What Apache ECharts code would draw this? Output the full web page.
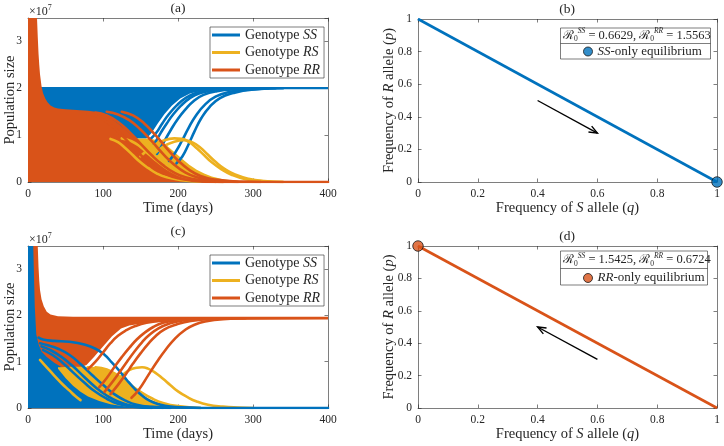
<!DOCTYPE html>
<html>
<head>
<meta charset="utf-8">
<script src="https://cdn.jsdelivr.net/npm/echarts@6.0.0/dist/echarts.min.js"></script>
<style>
html,body{margin:0;padding:0;background:#fff;}
#chart{width:724px;height:446px;}
</style>
</head>
<body>
<div id="chart"></div>
<script>
// ================= DATA =================
// axes: [min, max, interval]
const timeAxis = [0, 400, 100];          // days
const popAxis  = [0, 3.5, 1];            // population, units of 10^7
const freqAxis = [0, 1, 0.2];
const genotypeNames = ['Genotype SS', 'Genotype RS', 'Genotype RR'];

// ---- panel (a): envelopes of the dense bundles of trajectories [day, pop/1e7]
const a_SS_band_upper = [[14,2.03],[400,2.03]];
const a_SS_band_lower = [[14,1.5],[100,1.45],[130,1.1],[140,0.93],[158,0.93],[165,1.05],[173,1.25],[182,1.45],[192,1.63],[203,1.78],[216,1.89],[232,1.95],[255,1.98],[400,1.98]];
const a_RS_band_upper = [[100,0.93],[155,0.93],[165,0.92],[175,0.88],[185,0.78],[195,0.64],[205,0.5],[215,0.37],[225,0.26],[235,0.18],[245,0.12],[260,0.06],[280,0.02],[310,0]];
const a_RS_band_lower = [[100,0],[310,0]];
const a_RR_band_upper = [[0,3.5],[12,3.5],[13,3.1],[14,2.75],[15,2.5],[16,2.3],[18,2.05],[20,1.9],[23,1.78],[26,1.7],[30,1.63],[35,1.59],[40,1.57],[50,1.55],[60,1.54],[70,1.53],[80,1.52],[90,1.5],[100,1.45],[110,1.37],[120,1.25],[130,1.12],[140,0.97],[150,0.82],[160,0.66],[170,0.5],[180,0.36],[190,0.24],[200,0.15],[210,0.09],[225,0.04],[245,0.015],[270,0.005],[300,0]];
const a_RR_band_lower = [[0,0],[300,0]];
// ---- panel (a): individual trajectories
const a_SS_1 = [[164,0.93],[171,1.05],[179,1.25],[188,1.45],[198,1.63],[209,1.78],[222,1.89],[238,1.95],[262,1.98],[300,2.0]];
const a_SS_2 = [[168,0.8],[177,1.05],[185,1.25],[194,1.45],[204,1.63],[215,1.78],[228,1.89],[245,1.95],[270,1.98],[310,2.0]];
const a_SS_3 = [[172,0.6],[180,0.82],[190,1.1],[200,1.35],[210,1.55],[221,1.73],[234,1.86],[252,1.94],[278,1.98],[320,2.0]];
const a_SS_4 = [[188,0.45],[196,0.62],[205,0.87],[214,1.15],[224,1.42],[236,1.65],[250,1.82],[268,1.92],[292,1.97],[330,2.0]];
const a_SS_5 = [[198,0.4],[206,0.55],[214,0.8],[222,1.08],[231,1.36],[242,1.6],[256,1.79],[274,1.9],[298,1.97],[340,2.0]];
const a_RS_1 = [[150,0.55],[165,0.75],[180,0.88],[195,0.93],[205,0.92],[215,0.85],[225,0.72],[235,0.57],[245,0.42],[258,0.27],[272,0.15],[290,0.06],[310,0.02],[340,0]];
const a_RS_2 = [[165,0.55],[180,0.75],[195,0.86],[209,0.89],[220,0.84],[230,0.73],[240,0.58],[250,0.43],[262,0.28],[276,0.16],[294,0.07],[315,0.02],[340,0]];
const a_RS_3 = [[110,0.92],[120,0.85],[130,0.72],[140,0.57],[150,0.42],[160,0.3],[172,0.18],[185,0.1],[205,0.04],[230,0.01]];
const a_RS_4 = [[125,0.93],[138,0.87],[150,0.75],[162,0.58],[174,0.42],[186,0.28],[200,0.16],[215,0.08],[235,0.03],[260,0]];
const a_RR_1 = [[80,1.45],[95,1.38],[110,1.22],[125,1.0],[140,0.75],[155,0.5],[170,0.3],[185,0.16],[200,0.08],[220,0.03],[250,0]];
const a_RR_2 = [[90,1.48],[105,1.42],[120,1.28],[135,1.07],[150,0.82],[165,0.57],[180,0.36],[195,0.2],[210,0.1],[230,0.04],[260,0]];
const a_RR_3 = [[105,1.5],[120,1.44],[135,1.32],[150,1.12],[165,0.87],[180,0.6],[195,0.37],[210,0.2],[225,0.1],[245,0.04],[280,0]];
const a_RR_4 = [[125,1.5],[140,1.42],[155,1.25],[170,1.0],[185,0.72],[200,0.46],[215,0.26],[230,0.13],[250,0.05],[280,0.01],[310,0]];
const a_RR_5 = [[250,0],[400,0]];

// ---- panel (c): envelopes
const c_SS_band_upper = [[0,3.5],[9,3.5],[11,2.6],[13,1.9],[16,1.55],[20,1.4],[30,1.25],[40,1.1],[50,0.95],[60,0.8],[70,0.64],[80,0.5],[90,0.38],[100,0.28],[110,0.2],[125,0.11],[140,0.06],[160,0.03],[190,0.01],[220,0]];
const c_SS_band_lower = [[0,0],[220,0]];
const c_RR_band_upper = [[7,3.5],[13,3.5],[14,3.05],[15,2.75],[16,2.55],[18,2.35],[21,2.2],[25,2.08],[30,2.02],[40,1.98],[60,1.97],[100,1.97],[400,1.97]];
const c_RR_band_lower = [[7,3.5],[9,2.2],[11,1.6],[14,1.38],[18,1.22],[25,1.1],[35,0.98],[45,0.88],[70,0.88],[78,0.93],[88,1.1],[100,1.33],[112,1.55],[124,1.72],[135,1.78],[150,1.82],[170,1.85],[200,1.88],[250,1.9],[400,1.91]];
const c_RS_band_upper = [[40,0.88],[60,0.89],[80,0.89],[95,0.88],[105,0.84],[115,0.76],[125,0.64],[135,0.5],[145,0.37],[155,0.26],[165,0.17],[175,0.1],[190,0.05],[210,0.02],[230,0]];
const c_RS_band_lower = [[40,0.85],[50,0.65],[60,0.48],[70,0.35],[80,0.25],[95,0.15],[110,0.08],[130,0.03],[160,0.01],[230,0]];
// ---- panel (c): individual trajectories
const c_SS_1 = [[14,1.52],[20,1.48],[35,1.45],[55,1.43],[75,1.37],[90,1.28],[102,1.15],[112,0.98],[122,0.8],[132,0.6],[142,0.42],[152,0.27],[162,0.16],[175,0.08],[190,0.03],[210,0.01],[230,0]];
const c_SS_2 = [[16,1.4],[25,1.36],[40,1.28],[55,1.15],[70,0.95],[85,0.72],[100,0.5],[115,0.3],[130,0.16],[145,0.07],[165,0.02],[190,0]];
const c_SS_3 = [[18,1.33],[30,1.25],[45,1.1],[60,0.9],[75,0.67],[90,0.45],[105,0.27],[120,0.14],[135,0.06],[155,0.02],[180,0]];
const c_SS_4 = [[20,1.25],[32,1.15],[46,0.98],[60,0.77],[75,0.55],[90,0.35],[105,0.2],[120,0.09],[140,0.03],[165,0]];
const c_SS_5 = [[150,0.03],[200,0.01],[250,0],[400,0]];
const c_RS_1 = [[105,0.3],[115,0.5],[125,0.7],[135,0.82],[145,0.87],[152,0.88],[160,0.85],[170,0.76],[180,0.63],[190,0.49],[200,0.36],[212,0.24],[225,0.14],[240,0.07],[260,0.03],[280,0.01],[300,0]];
const c_RS_2 = [[16,1.04],[25,0.88],[35,0.7],[45,0.53],[55,0.38],[63,0.26],[70,0.17]];
const c_RS_3 = [[80,0.88],[95,0.82],[110,0.68],[125,0.5],[140,0.33],[155,0.2],[170,0.1],[190,0.04],[215,0.01]];
const c_RS_4 = [[90,0.88],[105,0.83],[120,0.7],[135,0.52],[150,0.35],[165,0.21],[180,0.11],[200,0.04],[230,0]];
const c_RR_1 = [[138,0.22],[148,0.4],[160,0.7],[172,1.0],[184,1.27],[196,1.5],[208,1.67],[222,1.8],[240,1.88],[260,1.92],[290,1.94]];
const c_RR_2 = [[95,0.45],[105,0.65],[115,0.88],[125,1.1],[135,1.3],[145,1.48],[155,1.62],[167,1.75],[180,1.84],[200,1.9],[230,1.93]];
const c_RR_3 = [[102,0.35],[112,0.55],[122,0.77],[132,1.0],[142,1.22],[152,1.42],[162,1.58],[174,1.72],[188,1.82],[206,1.89],[236,1.93]];
const c_RR_4 = [[110,0.3],[120,0.5],[130,0.72],[140,0.96],[150,1.18],[160,1.38],[170,1.55],[182,1.7],[197,1.8],[217,1.88],[250,1.93]];
const c_RR_5 = [[80,0.84],[90,1.0],[100,1.2],[110,1.4],[120,1.56],[131,1.68],[143,1.77],[158,1.84],[180,1.89],[210,1.91]];

// ---- panels (b) and (d): allele-frequency phase lines [q, p]
const b_path = [[0,1],[1,0]];
const b_equilibrium = [[1,0]];
const b_arrow = [[0.4,0.5,0.6,0.3]];       // q0, p0, q1, p1
const b_R0 = ['0.6629', '1.5563'];          // R0^SS, R0^RR
const d_path = [[0,1],[1,0]];
const d_equilibrium = [[0,1]];
const d_arrow = [[0.6,0.3,0.4,0.5]];
const d_R0 = ['1.5425', '0.6724'];

// ================= STYLE =================
const FONT = '"Liberation Serif","DejaVu Serif",serif';
const TXT = '#262626';
const C_SS = '#0072BD', C_RS = '#EDB120', C_RR = '#D95319';
const genoColors = [C_SS, C_RS, C_RR];
const LW = 2.6;

const gridBoxes = [
  {left:28,  top:18,  width:300, height:164},
  {left:418, top:19,  width:299, height:163},
  {left:28,  top:246, width:300, height:162},
  {left:418, top:246, width:299, height:162}
];

const italicRich = (size) => ({ i: {fontFamily:FONT, fontSize:size, fontStyle:'italic', color:TXT} });
const fmtItalic = (s) => s.replace(/\b(SS|RS|RR|R|S|p|q)\b(?![a-z])/g, '{i|$1}');

const xAxes = [], yAxes = [];
function addAxes(gi, xr, yr, xName, yName, yNameGap){
  const line = {show:true, onZero:false, lineStyle:{color:TXT, width:0.6}};
  const tick = {show:true, inside:true, length:3.5, lineStyle:{color:TXT, width:0.6}};
  const lab = {fontFamily:FONT, fontSize:11.5, color:TXT, margin:6};
  const nameStyle = {fontFamily:FONT, fontSize:14.5, color:TXT, rich:italicRich(14.5)};
  xAxes.push({gridIndex:gi, type:'value', position:'bottom', min:xr[0], max:xr[1], interval:xr[2],
    axisLine:line, axisTick:tick, splitLine:{show:false}, axisLabel:lab,
    name:xName, nameLocation:'middle', nameGap:19, nameTextStyle:nameStyle, nameMoveOverlap:false});
  xAxes.push({gridIndex:gi, type:'value', position:'top', min:xr[0], max:xr[1], interval:xr[2],
    axisLine:line, axisTick:tick, splitLine:{show:false}, axisLabel:{show:false}});
  yAxes.push({gridIndex:gi, type:'value', position:'left', min:yr[0], max:yr[1], interval:yr[2],
    axisLine:line, axisTick:tick, splitLine:{show:false}, axisLabel:Object.assign({showMaxLabel: yr[1] % yr[2] === 0 || yr[1] === 1}, lab),
    name:yName, nameLocation:'middle', nameGap:yNameGap, nameRotate:90, nameTextStyle:nameStyle, nameMoveOverlap:false});
  yAxes.push({gridIndex:gi, type:'value', position:'right', min:yr[0], max:yr[1], interval:yr[2],
    axisLine:line, axisTick:tick, splitLine:{show:false}, axisLabel:{show:false}});
}
addAxes(0, timeAxis, popAxis, 'Time (days)', 'Population size', 10);
addAxes(1, freqAxis, freqAxis, fmtItalic('Frequency of S allele (q)'), fmtItalic('Frequency of R allele (p)'), 21);
addAxes(2, timeAxis, popAxis, 'Time (days)', 'Population size', 10);
addAxes(3, freqAxis, freqAxis, fmtItalic('Frequency of S allele (q)'), fmtItalic('Frequency of R allele (p)'), 21);

const series = [];
function addBand(gi, name, upper, lower, color){
  const pts = upper.concat(lower.slice().reverse());
  series.push({type:'custom', name, xAxisIndex:2*gi, yAxisIndex:2*gi, data:pts, silent:true, animation:false,
    itemStyle:{color}, z:2,
    renderItem:(params, api) => {
      if (params.dataIndex !== 0) return null;
      return {type:'polygon', shape:{points: pts.map(p => api.coord(p))}, style:{fill:color}};
    }});
}
function addCurve(gi, name, data, color){
  series.push({type:'line', name, xAxisIndex:2*gi, yAxisIndex:2*gi, data, smooth:0.5,
    symbol:'none', showSymbol:false, lineStyle:{color, width:LW, cap:'round', join:'round'}, itemStyle:{color}, silent:true,
    animation:false, clip:true, z:3});
}
function arrowRender(params, api){
  const s = api.coord([api.value(0), api.value(1)]);
  const e = api.coord([api.value(2), api.value(3)]);
  const ang = Math.atan2(e[1]-s[1], e[0]-s[0]);
  const L = 9, w = 0.38;
  const h1 = [e[0]-L*Math.cos(ang-w), e[1]-L*Math.sin(ang-w)];
  const h2 = [e[0]-L*Math.cos(ang+w), e[1]-L*Math.sin(ang+w)];
  return {type:'group', children:[
    {type:'line', shape:{x1:s[0], y1:s[1], x2:e[0], y2:e[1]}, style:{stroke:'#000', lineWidth:1.4}},
    {type:'polyline', shape:{points:[h1, e, h2]}, style:{stroke:'#000', lineWidth:1.4, fill:null}}
  ]};
}

// panel (a)
const [SS, RS, RR] = genotypeNames;
addBand(0, SS, a_SS_band_upper, a_SS_band_lower, C_SS);
addBand(0, RS, a_RS_band_upper, a_RS_band_lower, C_RS);
addBand(0, RR, a_RR_band_upper, a_RR_band_lower, C_RR);
[a_SS_1, a_SS_2, a_SS_3, a_SS_4, a_SS_5].forEach(d => addCurve(0, SS, d, C_SS));
[a_RS_1, a_RS_2, a_RS_3, a_RS_4].forEach(d => addCurve(0, RS, d, C_RS));
[a_RR_1, a_RR_2, a_RR_3, a_RR_4, a_RR_5].forEach(d => addCurve(0, RR, d, C_RR));
// panel (c)
addBand(2, SS, c_SS_band_upper, c_SS_band_lower, C_SS);
addBand(2, RR, c_RR_band_upper, c_RR_band_lower, C_RR);
addBand(2, RS, c_RS_band_upper, c_RS_band_lower, C_RS);
[c_RS_1, c_RS_2, c_RS_3, c_RS_4].forEach(d => addCurve(2, RS, d, C_RS));
[c_SS_1, c_SS_2, c_SS_3, c_SS_4, c_SS_5].forEach(d => addCurve(2, SS, d, C_SS));
[c_RR_1, c_RR_2, c_RR_3, c_RR_4, c_RR_5].forEach(d => addCurve(2, RR, d, C_RR));

// panels (b), (d)
function phasePanel(gi, path, eq, arrow, color, eqName){
  series.push({type:'line', name:'path'+gi, xAxisIndex:2*gi, yAxisIndex:2*gi, data:path, symbol:'none',
    lineStyle:{color, width:LW}, itemStyle:{color}, silent:true, animation:false, z:3});
  series.push({type:'custom', name:'arrow'+gi, xAxisIndex:2*gi, yAxisIndex:2*gi, data:arrow,
    encode:{x:[0,2], y:[1,3]}, renderItem:arrowRender, silent:true, animation:false, z:4});
  series.push({type:'scatter', name:eqName, xAxisIndex:2*gi, yAxisIndex:2*gi, data:eq, symbol:'circle',
    symbolSize:10.5, itemStyle:{color, borderColor:'#1a1a1a', borderWidth:1}, clip:false, silent:true,
    animation:false, z:5});
}
phasePanel(1, b_path, b_equilibrium, b_arrow, C_SS, 'SS-only equilibrium');
phasePanel(3, d_path, d_equilibrium, d_arrow, C_RR, 'RR-only equilibrium');

// legends
const legText = {fontFamily:FONT, fontSize:14, color:TXT, lineHeight:12, rich:{i:{fontFamily:FONT, fontSize:14, fontStyle:'italic', color:TXT, lineHeight:12}}};
function genoLegend(top){
  return {left:210, top, orient:'vertical', itemWidth:28, itemHeight:3, itemGap:3.5,
    padding:[1,4,1,2], borderColor:TXT, borderWidth:0.6, borderRadius:0, backgroundColor:'#fff',
    selectedMode:false, z:10, formatter:fmtItalic, textStyle:legText,
    data: genotypeNames.map((n, i) => ({name:n, icon:'rect', itemStyle:{color:genoColors[i], borderWidth:0}}))};
}
function eqLegend(top, name, color){
  return {left:583, top, orient:'vertical', itemWidth:9, itemHeight:9, padding:0, selectedMode:false, z:12,
    formatter:fmtItalic, textStyle:{fontFamily:FONT, fontSize:13, color:TXT, rich:{i:{fontFamily:FONT, fontSize:13, fontStyle:'italic', color:TXT}}},
    data:[{name, icon:'circle', itemStyle:{color, borderColor:'#1a1a1a', borderWidth:1}}]};
}

// graphic texts
function gText(x, y, text, size, align, rich){
  const st = {text, fontFamily:FONT, fontSize:size, fill:TXT, align:align||'center', verticalAlign:'middle',
    textAlign:align||'center', textVerticalAlign:'middle'};
  if (rich) st.rich = rich;
  return {type:'text', x, y, z:20, silent:true, style:st};
}
const expRich = {a:{fontFamily:FONT, fontSize:12, fill:TXT, color:TXT, lineHeight:14, verticalAlign:'bottom'},
                 s:{fontFamily:FONT, fontSize:8, fill:TXT, color:TXT, lineHeight:14, verticalAlign:'top'}};
const r0Rich = {
  r:{fontFamily:'"DejaVu Serif",serif', fontSize:12.5, fill:TXT, color:TXT, lineHeight:16},
  t:{fontFamily:FONT, fontSize:12.5, fill:TXT, color:TXT, lineHeight:16},
  sp:{fontFamily:FONT, fontSize:7.5, fontStyle:'italic', fill:TXT, color:TXT, lineHeight:16, verticalAlign:'top'},
  sb:{fontFamily:FONT, fontSize:7.5, fill:TXT, color:TXT, lineHeight:16, verticalAlign:'bottom'}
};
const r0Text = (v) => `{r|ℛ}{sb|0}{sp|SS}{t| = ${v[0]}, }{r|ℛ}{sb|0}{sp|RR}{t| = ${v[1]}}`;

function boxGraphics(x, y, w, h, sepY){
  return [
    {type:'rect', shape:{x, y, width:w, height:h}, style:{fill:'#fff', stroke:TXT, lineWidth:0.6}, z:8, silent:true},
    {type:'line', shape:{x1:x, y1:sepY, x2:x+w, y2:sepY}, style:{stroke:TXT, lineWidth:0.6}, z:9, silent:true}
  ];
}

const graphic = [
  gText(178, 8, '(a)', 13.5), gText(567, 9, '(b)', 13.5),
  gText(178, 231, '(c)', 13.5), gText(567, 236, '(d)', 13.5),
  gText(29, 11, '{a|×10}{s|7}', 12, 'left', expRich),
  gText(29, 239, '{a|×10}{s|7}', 12, 'left', expRich),
  ...boxGraphics(560.5, 28, 150, 31, 43.5),
  gText(563, 35.5, r0Text(b_R0), 12.5, 'left', r0Rich),
  ...boxGraphics(560.5, 251, 147, 34, 268.5),
  gText(563, 260, r0Text(d_R0), 12.5, 'left', r0Rich)
];

const chart = echarts.init(document.getElementById('chart'), null, {renderer:'canvas'});
chart.setOption({
  animation:false,
  backgroundColor:'#fff',
  grid: gridBoxes.map(g => Object.assign({containLabel:false, outerBoundsMode:'none'}, g)),
  xAxis: xAxes,
  yAxis: yAxes,
  legend: [genoLegend(27), genoLegend(255), eqLegend(45, 'SS-only equilibrium', C_SS), eqLegend(271.5, 'RR-only equilibrium', C_RR)],
  graphic,
  series
});
</script>
</body>
</html>
